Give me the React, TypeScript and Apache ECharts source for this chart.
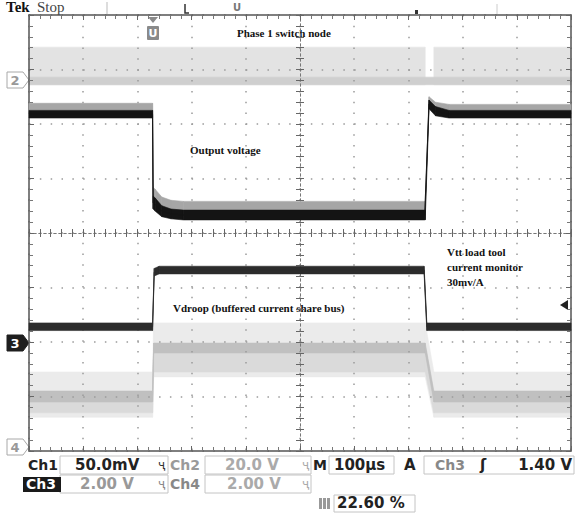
import React, { useEffect, useRef } from "react";
import * as echarts from "echarts";

// ---- Screen: 10 horizontal x 8 vertical divisions (values in divisions) ----
const X_DIVS = 10;
const Y_DIVS = 8;

// Ch2 – Phase 1 switch node (light band, with a short gap)
const ch2Time = [0, 7.31, 7.39, 7.47, 10];
const ch2Lower = [6.72, 6.72, null, 6.72, 6.72];
const ch2Upper = [7.41, 7.41, null, 7.41, 7.41];
const ch2StripeTime = [0, 10];
const ch2StripeLower = [6.72, 6.72];
const ch2StripeUpper = [6.86, 6.86];

// Ch1 – Output voltage (dark trace)
const ch1Time = [0, 2.28, 2.29, 2.33, 2.45, 2.62, 2.85, 7.3, 7.31, 7.38, 7.5, 7.75, 10];
const ch1Lower = [6.11, 6.11, 4.44, 4.4, 4.3, 4.26, 4.24, 4.24, 4.24, 6.28, 6.15, 6.11, 6.11];
const ch1Upper = [6.25, 6.25, 4.68, 4.64, 4.5, 4.44, 4.42, 4.42, 4.42, 6.44, 6.32, 6.25, 6.25];
const ch1FuzzLower = [6.12, 6.12, 4.46, 4.42, 4.32, 4.28, 4.26, 4.26, 4.26, 6.3, 6.17, 6.12, 6.12];
const ch1FuzzUpper = [6.38, 6.38, 4.84, 4.8, 4.66, 4.6, 4.58, 4.58, 4.58, 6.5, 6.4, 6.36, 6.36];

// Ch4 – Vtt load tool current monitor (dark trace)
const ch4Time = [0, 2.28, 2.31, 2.4, 7.29, 7.34, 10];
const ch4Lower = [2.21, 2.21, 3.21, 3.25, 3.25, 2.21, 2.21];
const ch4Upper = [2.35, 2.35, 3.35, 3.39, 3.39, 2.35, 2.35];

// Ch3 – Vdroop (light noisy trace)
const ch3Time = [0, 2.28, 2.3, 7.31, 7.47, 10];
const ch3OuterLower = [0.62, 0.62, 1.36, 1.36, 0.62, 0.62];
const ch3OuterUpper = [1.45, 1.45, 2.35, 2.35, 1.45, 1.45];
const ch3MidLower = [0.7, 0.7, 1.45, 1.45, 0.7, 0.7];
const ch3MidUpper = [1.02, 1.02, 1.9, 1.9, 1.02, 1.02];
const ch3CoreLower = [0.9, 0.9, 1.8, 1.8, 0.9, 0.9];
const ch3CoreUpper = [1.1, 1.1, 1.98, 1.98, 1.1, 1.1];

// Readout texts
const row1 = ["Ch1", "50.0mV", "Ch2", "20.0 V", "M", "100µs", "A", "Ch3", "1.40 V"];
const row2 = ["Ch3", "2.00 V", "Ch4", "2.00 V"];
const cursorReadout = "22.60 %";

const GRID = { left: 29, top: 15, width: 542, height: 436 };

type N = number | null;

// Band between a lower and an upper trace edge, drawn segment by segment
function bandSeries(id: string, xs: number[], lo: N[], hi: N[], color: string, z: number) {
  const data: any[] = [];
  for (let i = 0; i < xs.length - 1; i++) {
    if (lo[i] == null || hi[i] == null || lo[i + 1] == null || hi[i + 1] == null) continue;
    data.push([xs[i], lo[i], hi[i], xs[i + 1], lo[i + 1], hi[i + 1]]);
  }
  return {
    id,
    type: "custom",
    xAxisIndex: 0,
    yAxisIndex: 0,
    silent: true,
    z,
    encode: { x: [0, 3], y: [1, 2, 4, 5] },
    data,
    renderItem: (params: any, api: any) => {
      const a = api.coord([api.value(0), api.value(1)]);
      const b = api.coord([api.value(3), api.value(4)]);
      const c = api.coord([api.value(3), api.value(5)]);
      const d = api.coord([api.value(0), api.value(2)]);
      return {
        type: "polygon",
        shape: { points: [a, b, c, d] },
        style: { fill: color, stroke: color, lineWidth: 0.6 },
      };
    },
  };
}

function centerLine(id: string, xs: number[], lo: N[], hi: N[], color: string, width: number, z: number) {
  return {
    id,
    type: "line",
    xAxisIndex: 0,
    yAxisIndex: 0,
    data: xs.map((x, i) => [x, lo[i] == null || hi[i] == null ? null : ((lo[i] as number) + (hi[i] as number)) / 2]),
    symbol: "none",
    lineStyle: { color, width },
    silent: true,
    z,
  };
}

const dotted = { color: "#9a9a9a", width: 1.5, type: [1.5, 9.34] as number[] };

function borderAxis(extra: any) {
  return {
    type: "value",
    interval: 1,
    axisLine: { show: true, onZero: false, lineStyle: { color: "#555", width: 1.5 } },
    axisTick: { show: true, inside: true, length: 5, lineStyle: { color: "#666" } },
    minorTick: { show: true, splitNumber: 5, length: 4, lineStyle: { color: "#777" } },
    axisLabel: { show: false },
    splitLine: { show: false },
    ...extra,
  };
}

function centerAxis(extra: any) {
  return {
    type: "value",
    gridIndex: 1,
    interval: 1,
    axisLine: { show: true, onZero: true, onZeroAxisIndex: 2, lineStyle: { color: "#777", width: 1, type: [2, 3] } },
    axisTick: { show: true, inside: true, length: 4, lineStyle: { color: "#666" } },
    minorTick: { show: true, splitNumber: 5, length: 4, lineStyle: { color: "#666" } },
    axisLabel: { show: false },
    splitLine: { show: false },
    ...extra,
  };
}

const SERIF = '"Liberation Serif", "DejaVu Serif", serif';
const SANS = '"DejaVu Sans", sans-serif';

function txt(x: number, y: number, text: string, fill: string, font: string, align = "left") {
  return { type: "text", x, y, silent: true, style: { text, fill, font, textAlign: align, textVerticalAlign: "middle" } };
}
function box(x: number, y: number, w: number, h: number, stroke = "#c4c4c4") {
  return { type: "rect", shape: { x, y, width: w, height: h }, silent: true, style: { fill: "none", stroke, lineWidth: 1 } };
}
function marker(y: number, label: string, dark: boolean) {
  return [
    {
      type: "polygon",
      silent: true,
      shape: { points: [[7, y - 8], [23, y - 8], [29, y], [23, y + 8], [7, y + 8]] },
      style: { fill: dark ? "#1e1e1e" : "#fff", stroke: dark ? "#1e1e1e" : "#a8a8a8", lineWidth: 1 },
    },
    txt(15, y, label, dark ? "#fff" : "#999", `bold 13px ${SANS}`, "center"),
  ];
}

export default function App() {
  const ref = useRef<HTMLDivElement>(null);
  useEffect(() => {
    const chart = echarts.init(ref.current!, null, { renderer: "svg" });
    const series: any[] = [
      bandSeries("ch2", ch2Time, ch2Lower, ch2Upper, "#e3e3e3", -1),
      bandSeries("ch2stripe", ch2StripeTime, ch2StripeLower, ch2StripeUpper, "#cfcfcf", -1),
      bandSeries("ch3outer", ch3Time, ch3OuterLower, ch3OuterUpper, "#ebebeb", -1),
      bandSeries("ch3mid", ch3Time, ch3MidLower, ch3MidUpper, "#dadada", -1),
      bandSeries("ch3core", ch3Time, ch3CoreLower, ch3CoreUpper, "#c0c0c0", -1),
      centerLine("ch3line", ch3Time, ch3CoreLower, ch3CoreUpper, "#c0c0c0", 1, -1),
      bandSeries("ch1fuzz", ch1Time, ch1FuzzLower, ch1FuzzUpper, "#a6a6a6", 2),
      bandSeries("ch1core", ch1Time, ch1Lower, ch1Upper, "#141414", 3),
      centerLine("ch1line", ch1Time, ch1Lower, ch1Upper, "#141414", 1, 3),
      bandSeries("ch4core", ch4Time, ch4Lower, ch4Upper, "#2c2c2c", 3),
      centerLine("ch4line", ch4Time, ch4Lower, ch4Upper, "#2c2c2c", 1, 3),
    ];

    const graphic: any[] = [
      // top status strip
      txt(6, 7, "Tek", "#111", `bold 15px ${SERIF}`),
      txt(37, 7, "Stop", "#444", `15px ${SERIF}`),
      { type: "line", silent: true, shape: { x1: 107, y1: 2, x2: 107, y2: 14 }, style: { stroke: "#bbb", lineWidth: 1 } },
      { type: "polyline", silent: true, shape: { points: [[185, 4], [185, 13], [189, 13]] }, style: { stroke: "#333", lineWidth: 1.5, fill: "none" } },
      txt(237, 7, "U", "#777", `bold 10px ${SANS}`, "center"),
      { type: "rect", silent: true, shape: { x: 415, y: 10, width: 3, height: 4 }, style: { fill: "#333" } },
      { type: "line", silent: true, shape: { x1: 497, y1: 4, x2: 497, y2: 14 }, style: { stroke: "#ccc", lineWidth: 1 } },
      // trigger position marker
      { type: "polygon", silent: true, shape: { points: [[148, 17], [158, 17], [153, 23]] }, style: { fill: "#8a8a8a" } },
      { type: "rect", silent: true, shape: { x: 147, y: 26, width: 12, height: 14, r: 1 }, style: { fill: "#8a8a8a" } },
      txt(153, 33, "U", "#fff", `bold 11px ${SANS}`, "center"),
      // channel markers
      ...marker(80, "2", false),
      ...marker(343, "3", true),
      ...marker(447, "4", false),
      // trigger level arrow
      { type: "polygon", silent: true, shape: { points: [[560, 305], [568, 300], [568, 310]] }, style: { fill: "#222" } },
      // annotations
      txt(237, 33, "Phase 1 switch node", "#111", `bold 11px ${SERIF}`),
      txt(190, 150, "Output voltage", "#111", `bold 11px ${SERIF}`),
      txt(173, 308, "Vdroop (buffered current share bus)", "#111", `bold 11px ${SERIF}`),
      txt(447, 252, "Vtt load tool", "#111", `bold 11px ${SERIF}`),
      txt(447, 267, "current monitor", "#111", `bold 11px ${SERIF}`),
      txt(447, 282, "30mv/A", "#111", `bold 11px ${SERIF}`),
      // readout boxes
      box(60, 456, 108, 18),
      box(205, 456, 106, 18),
      box(329, 456, 65, 18),
      box(424, 456, 150, 18),
      box(60, 475, 108, 18),
      box(205, 475, 106, 18),
      box(334, 495, 81, 17),
      // row 1
      txt(28, 465, row1[0], "#222", `bold 14px ${SANS}`),
      txt(75, 465, row1[1], "#222", `bold 15px ${SANS}`),
      txt(158, 465, "ҷ", "#333", `12px ${SANS}`),
      txt(170, 465, row1[2], "#9a9a9a", `bold 14px ${SANS}`),
      txt(225, 465, row1[3], "#aaa", `bold 15px ${SANS}`),
      txt(302, 465, "ҷ", "#aaa", `12px ${SANS}`),
      txt(313, 465, row1[4], "#222", `bold 14px ${SANS}`),
      txt(334, 465, row1[5], "#222", `bold 15px ${SANS}`),
      txt(404, 465, row1[6], "#222", `bold 15px ${SANS}`),
      txt(435, 465, row1[7], "#888", `bold 14px ${SANS}`),
      txt(480, 465, "ʃ", "#222", `bold 15px ${SANS}`),
      txt(572, 465, row1[8], "#222", `bold 15px ${SANS}`, "right"),
      // row 2
      { type: "rect", silent: true, shape: { x: 23, y: 477, width: 38, height: 15 }, style: { fill: "#1a1a1a" } },
      txt(26, 484, row2[0], "#fff", `bold 14px ${SANS}`),
      txt(80, 484, row2[1], "#999", `bold 15px ${SANS}`),
      txt(158, 484, "ҷ", "#888", `12px ${SANS}`),
      txt(170, 484, row2[2], "#888", `bold 14px ${SANS}`),
      txt(227, 484, row2[3], "#aaa", `bold 15px ${SANS}`),
      txt(302, 484, "ҷ", "#aaa", `12px ${SANS}`),
      // row 3
      { type: "rect", silent: true, shape: { x: 319, y: 498, width: 3, height: 11 }, style: { fill: "#999" } },
      { type: "rect", silent: true, shape: { x: 323, y: 498, width: 3, height: 11 }, style: { fill: "#999" } },
      { type: "rect", silent: true, shape: { x: 327, y: 498, width: 3, height: 11 }, style: { fill: "#999" } },
      txt(337, 503, cursorReadout, "#222", `bold 15px ${SANS}`),
    ];

    chart.setOption({
      animation: false,
      backgroundColor: "#fff",
      grid: [
        { ...GRID, containLabel: false },
        { ...GRID, containLabel: false },
      ],
      xAxis: [
        borderAxis({ gridIndex: 0, position: "bottom", min: 0, max: X_DIVS, splitLine: { show: true, lineStyle: dotted } }),
        borderAxis({ gridIndex: 0, position: "top", min: 0, max: X_DIVS }),
        centerAxis({ position: "bottom", min: -X_DIVS / 2, max: X_DIVS / 2 }),
        centerAxis({ position: "top", min: -X_DIVS / 2, max: X_DIVS / 2 }),
      ],
      yAxis: [
        borderAxis({ gridIndex: 0, position: "left", min: 0, max: Y_DIVS, splitLine: { show: true, lineStyle: dotted } }),
        borderAxis({ gridIndex: 0, position: "right", min: 0, max: Y_DIVS }),
        centerAxis({ position: "left", min: -Y_DIVS / 2, max: Y_DIVS / 2 }),
        centerAxis({ position: "right", min: -Y_DIVS / 2, max: Y_DIVS / 2 }),
      ],
      series,
      graphic,
    });
    return () => chart.dispose();
  }, []);
  return (
    <div
      ref={ref}
      style={{ position: "fixed", left: 0, top: 0, width: 577, height: 516, background: "#fff" }}
    />
  );
}
